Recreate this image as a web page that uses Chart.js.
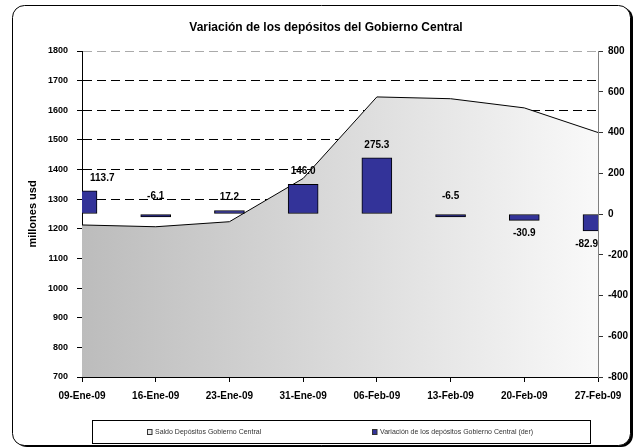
<!DOCTYPE html>
<html>
<head>
<meta charset="utf-8">
<script src="https://cdn.jsdelivr.net/npm/chart.js@4/dist/chart.umd.min.js"></script>
<style>
  body { margin: 0; background: #fff; }
  #wrap { width: 638px; height: 448px; }
</style>
</head>
<body>
<div id="wrap"><canvas id="depositosChart" width="638" height="448"></canvas></div>
<script>
// Datos
const fechas = ['09-Ene-09', '16-Ene-09', '23-Ene-09', '31-Ene-09', '06-Feb-09', '13-Feb-09', '20-Feb-09', '27-Feb-09'];
const saldoDepositos = [1213, 1207, 1224, 1370, 1645, 1639, 1608, 1525];
const variacionDepositos = [113.7, -6.1, 17.2, 146.0, 275.3, -6.5, -30.9, -82.9];
const ticksIzq = { min: 700, max: 1800, step: 100 };
const ticksDer = { min: -800, max: 800, step: 200 };

Chart.defaults.font.family = "'Liberation Sans', Arial, sans-serif";
Chart.defaults.color = '#000';

// Marco redondeado y fondo
const marcoPlugin = {
  id: 'marco',
  beforeDraw(chart) {
    const ctx = chart.ctx;
    ctx.save();
    ctx.fillStyle = '#fff';
    ctx.fillRect(0, 0, chart.width, chart.height);
    ctx.fillStyle = '#000';
    ctx.beginPath();
    ctx.roundRect(15, 7, 618, 440, 12);
    ctx.fill();
    ctx.fillStyle = '#fff';
    ctx.beginPath();
    ctx.roundRect(12.5, 5.5, 618, 440, 12);
    ctx.fill();
    ctx.strokeStyle = '#000';
    ctx.lineWidth = 1;
    ctx.stroke();
    ctx.restore();
  }
};

// Etiquetas de valor sobre las barras
const etiquetasPlugin = {
  id: 'etiquetas',
  afterDatasetsDraw(chart) {
    const ctx = chart.ctx;
    const area = chart.chartArea;
    const meta = chart.getDatasetMeta(1);
    ctx.save();
    ctx.font = "bold 10px 'Liberation Sans', Arial, sans-serif";
    ctx.fillStyle = '#000';
    ctx.textAlign = 'center';
    ctx.textBaseline = 'middle';
    meta.data.forEach((bar, i) => {
      const v = variacionDepositos[i];
      const txt = v.toFixed(1);
      const w = ctx.measureText(txt).width;
      let x = bar.x;
      x = Math.max(x, area.left + 8 + w / 2);
      x = Math.min(x, area.right - w / 2);
      let y;
      if (v >= 0) y = bar.y - 13;
      else if (v > -20) y = bar.base - 18;
      else y = bar.y + 13;
      ctx.fillText(txt, x, y);
    });
    ctx.restore();
  }
};

// Leyenda con recuadro
const leyendaPlugin = {
  id: 'leyenda',
  afterDraw(chart) {
    const ctx = chart.ctx;
    ctx.save();
    ctx.strokeStyle = '#000';
    ctx.lineWidth = 1;
    ctx.strokeRect(92.5, 420.5, 498, 23);
    ctx.font = "7px 'Liberation Sans', Arial, sans-serif";
    ctx.textBaseline = 'middle';
    const items = [
      { x: 147, fill: '#e8e8e8', label: chart.data.datasets[0].label },
      { x: 372, fill: '#333399', label: chart.data.datasets[1].label }
    ];
    items.forEach(it => {
      ctx.fillStyle = it.fill;
      ctx.fillRect(it.x, 429.5, 5, 5);
      ctx.strokeStyle = '#333';
      ctx.strokeRect(it.x + 0.5, 429.5, 4.5, 5);
      ctx.fillStyle = '#333';
      ctx.fillText(it.label, it.x + 8, 432.5);
    });
    ctx.restore();
  }
};

const ctx = document.getElementById('depositosChart').getContext('2d');

const depositosChart = new Chart(ctx, {
  type: 'bar',
  data: {
    labels: fechas,
    datasets: [
      {
        type: 'line',
        label: 'Saldo Depósitos Gobierno Central',
        data: saldoDepositos,
        yAxisID: 'y',
        borderColor: '#000',
        borderWidth: 1,
        pointRadius: 0,
        tension: 0,
        fill: 'start',
        order: 1,
        backgroundColor: (c) => {
          const area = c.chart.chartArea;
          if (!area) return '#d0d0d0';
          const g = c.chart.ctx.createLinearGradient(area.left, 0, area.right, 0);
          g.addColorStop(0, '#bcbcbc');
          g.addColorStop(1, '#f9f9f9');
          return g;
        }
      },
      {
        type: 'bar',
        label: 'Variación de los depósitos Gobierno Central (der)',
        data: variacionDepositos,
        yAxisID: 'y2',
        backgroundColor: '#333399',
        borderColor: '#000',
        borderWidth: 1,
        borderSkipped: false,
        barThickness: 30,
        minBarLength: 3,
        order: 0
      }
    ]
  },
  options: {
    responsive: false,
    animation: false,
    layout: { padding: { left: 14, right: 0, top: 0, bottom: 27 } },
    plugins: {
      legend: { display: false },
      tooltip: { enabled: false },
      title: {
        display: true,
        text: 'Variación de los depósitos del Gobierno Central',
        font: { size: 12, weight: 'bold' },
        color: '#000',
        padding: { top: 20, bottom: 16.6 }
      }
    },
    scales: {
      x: {
        type: 'category',
        offset: false,
        grid: { offset: false, drawOnChartArea: false, tickLength: 5, tickColor: '#000' },
        border: { color: '#000' },
        ticks: { font: { size: 10, weight: 'bold' }, maxRotation: 0, autoSkip: false, padding: 8 },
        afterFit: (s) => { s.height = 44; }
      },
      y: {
        position: 'left',
        min: ticksIzq.min,
        max: ticksIzq.max,
        ticks: {
          stepSize: ticksIzq.step,
          font: { size: 9, weight: 'bold' },
          padding: 9,
          callback: (v) => String(v)
        },
        grid: {
          color: (c) => c.tick && c.tick.value === ticksIzq.max ? '#aaa' : '#000',
          tickColor: '#000',
          tickLength: 5
        },
        border: { color: '#000', dash: [9, 5] },
        title: {
          display: true,
          text: 'millones usd',
          font: { size: 11, weight: 'bold' },
          padding: { top: 12, bottom: 0 }
        },
        afterFit: (s) => { s.width = 68; }
      },
      y2: {
        position: 'right',
        min: ticksDer.min,
        max: ticksDer.max,
        ticks: {
          stepSize: ticksDer.step,
          font: { size: 10, weight: 'bold' },
          padding: 5,
          callback: (v) => String(v)
        },
        grid: { drawOnChartArea: false, tickColor: '#333', tickLength: 5 },
        border: { color: '#808080' },
        afterFit: (s) => { s.width = 40; }
      }
    }
  },
  plugins: [marcoPlugin, etiquetasPlugin, leyendaPlugin]
});
</script>
</body>
</html>
